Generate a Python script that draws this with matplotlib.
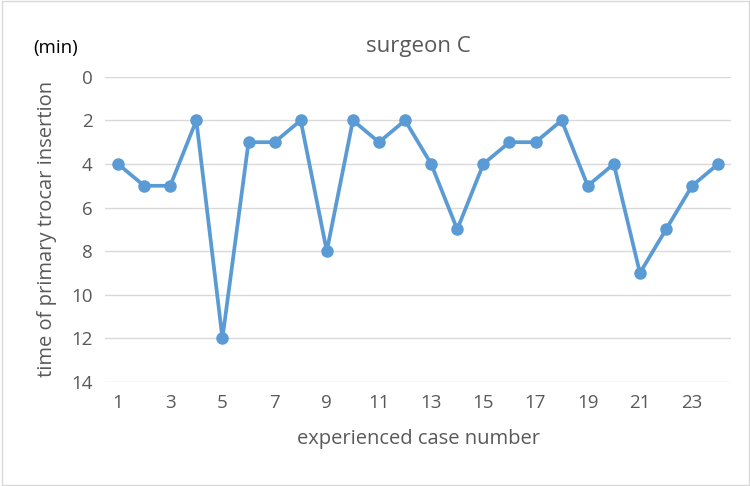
import matplotlib.pyplot as plt
from matplotlib.patches import Rectangle

# data
case_no = list(range(1, 25))
minutes = [4, 5, 5, 2, 12, 3, 3, 2, 8, 2, 3, 2, 4, 7, 4, 3, 3, 2, 5, 4, 9, 7, 5, 4]
y_ticks = [0, 2, 4, 6, 8, 10, 12, 14]
x_ticks = list(range(1, 25, 2))

plt.rcParams['font.family'] = ['Open Sans', 'DejaVu Sans']
gray = '#595959'
blue = '#5B9BD5'

fig = plt.figure(figsize=(7.5, 4.86), dpi=100)
ax = fig.add_axes([0.14, 0.214, 0.835, 0.628])

ax.plot(case_no, minutes, color=blue, linewidth=2.7, marker='o', markersize=8)

ax.set_xlim(0.5, 24.5)
ax.set_ylim(14, 0)
ax.set_yticks(y_ticks)
ax.set_xticks(x_ticks)
ax.tick_params(axis='both', length=0, colors=gray, labelsize=13.5, pad=9)
ax.grid(axis='y', color='#d9d9d9', linewidth=1)
ax.set_axisbelow(True)
for s in ax.spines.values():
    s.set_visible(False)

ax.set_xlabel('experienced case number', color=gray, fontsize=14.5, labelpad=12)
ax.set_ylabel('time of primary trocar insertion', color=gray, fontsize=14.5, labelpad=10)
ax.set_title('surgeon C', color=gray, fontsize=16, pad=18)
fig.text(0.045, 0.89, '(min)', fontsize=13.5, color='black')

fig.patches.append(Rectangle((0.002, 0.002), 0.996, 0.996, transform=fig.transFigure,
                             fill=False, edgecolor='#d9d9d9', linewidth=1))

fig.savefig('out.png', dpi=100)
